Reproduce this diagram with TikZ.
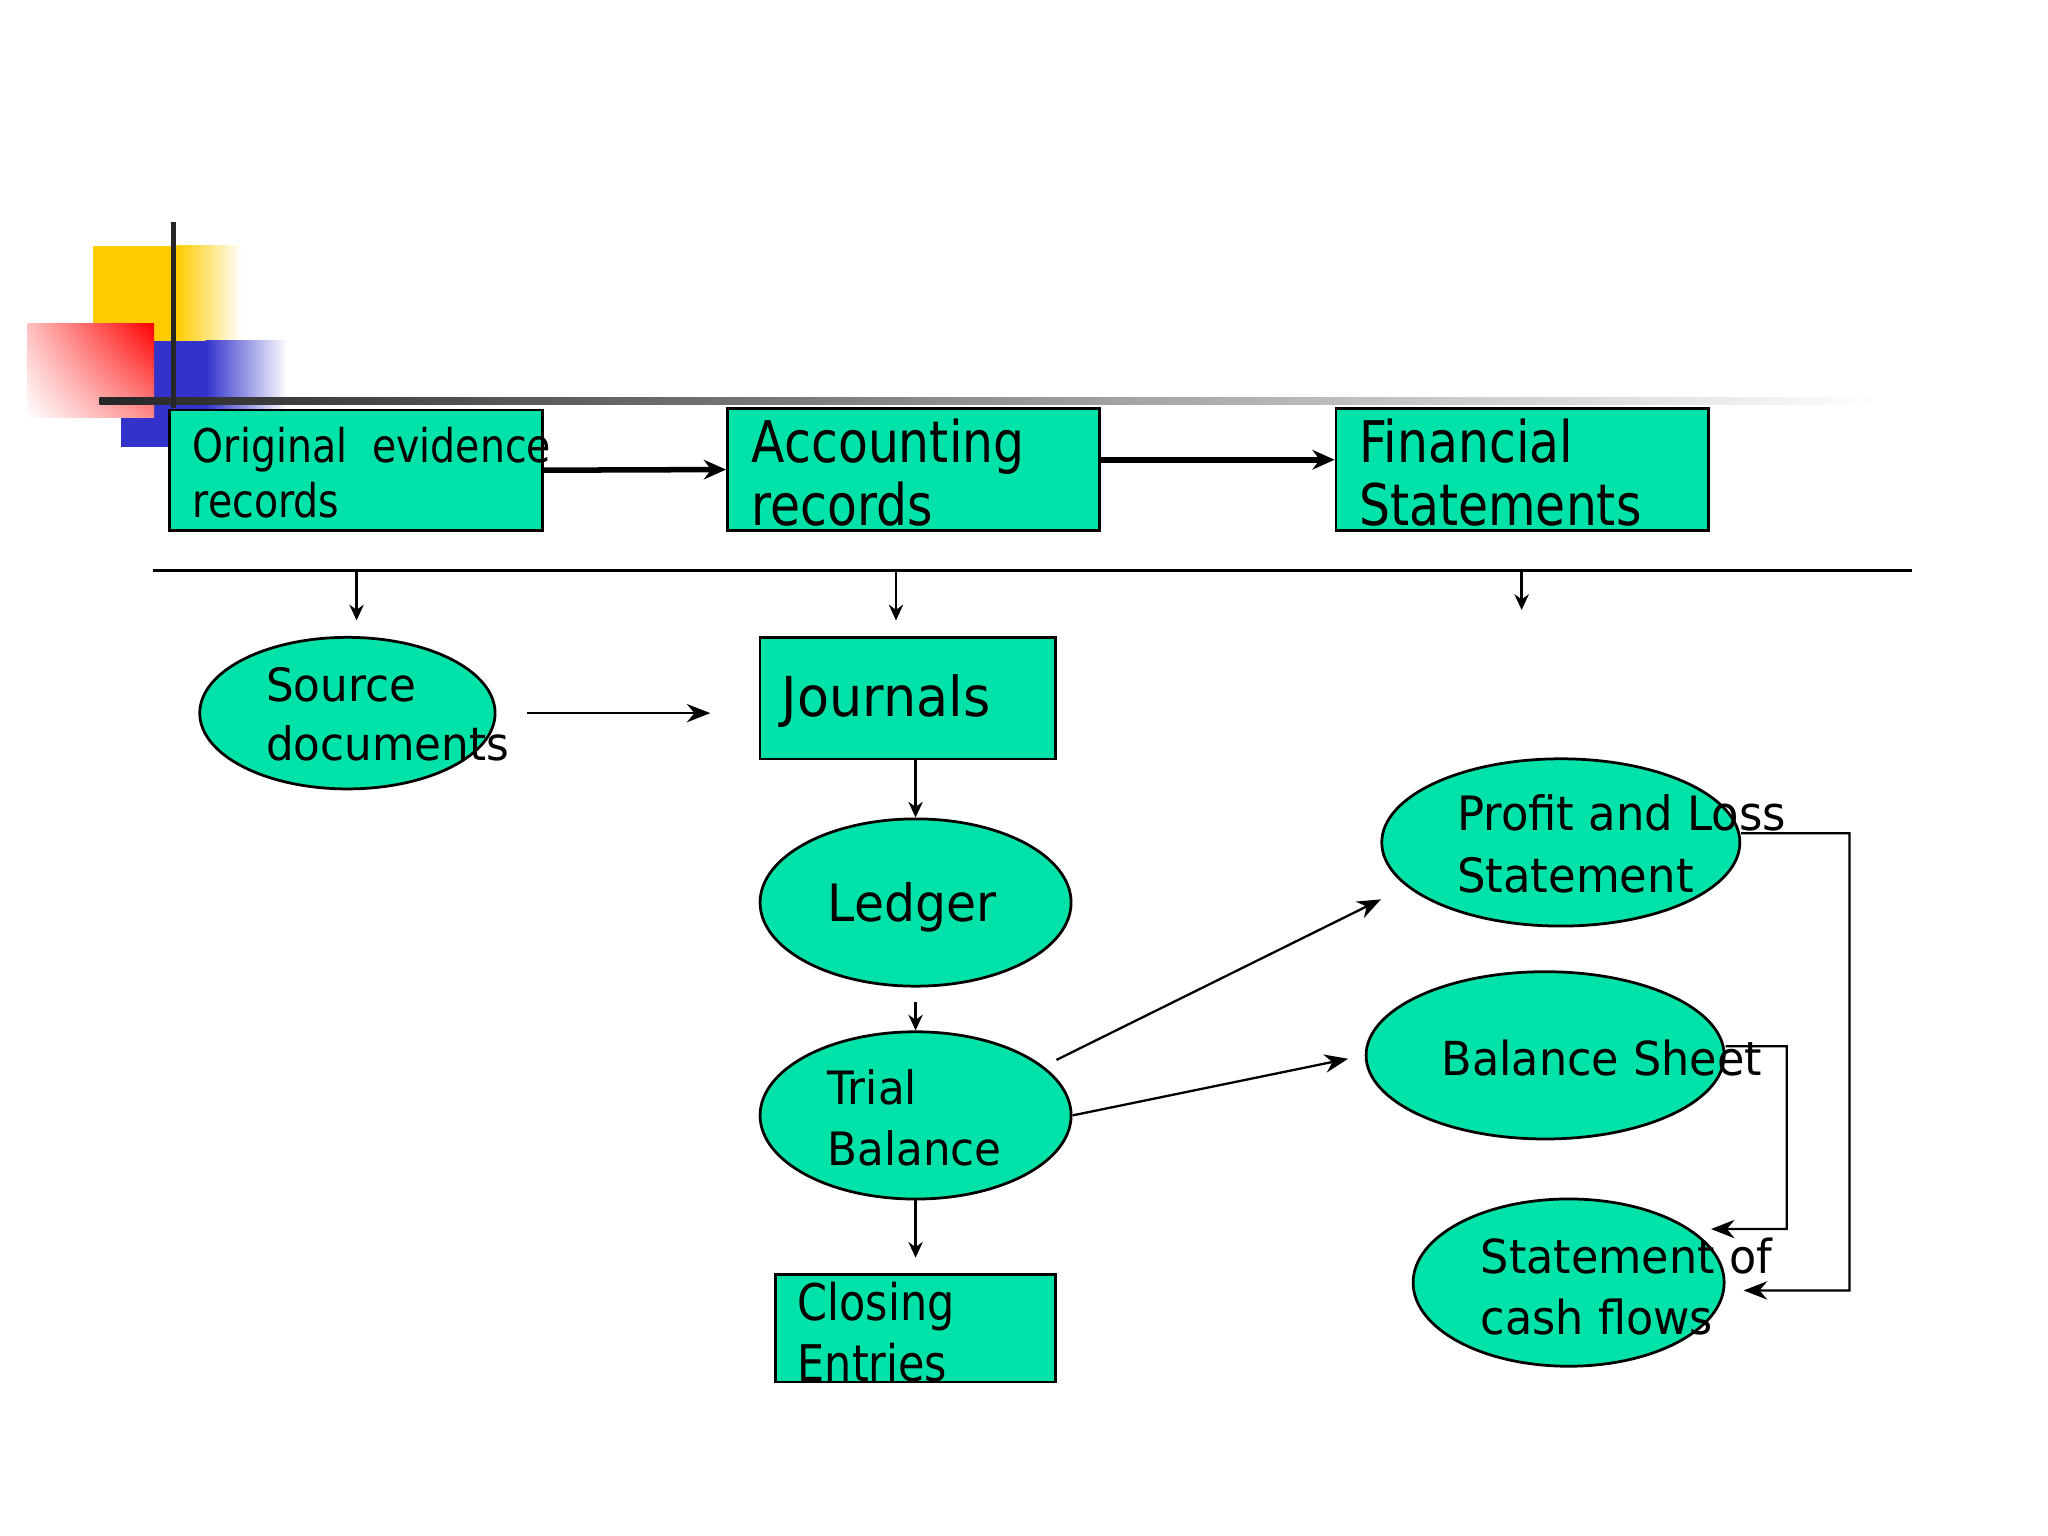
\documentclass[tikz,border=0pt]{standalone}
\usepackage{fontspec}
\setmainfont{DejaVu Sans}
\newfontfamily\condf[FakeStretch=0.85]{DejaVu Sans}
\newfontfamily\ellf[FakeStretch=0.95]{DejaVu Sans}
\usetikzlibrary{shapes.geometric,arrows.meta,shadings}
\definecolor{boxgreen}{RGB}{0,226,168}
\definecolor{decoyellow}{RGB}{255,204,0}
\definecolor{decoblue}{RGB}{51,51,204}
\definecolor{decored}{RGB}{255,0,0}
\begin{document}
\begin{tikzpicture}[x=0.01cm,y=-0.01cm,
  rectbox/.style={draw=black,line width=0.6pt,fill=boxgreen,rectangle,inner sep=0pt},
  ellbox/.style={draw=black,line width=0.6pt,fill=boxgreen,ellipse,inner sep=0pt},
  txt/.style={anchor=west,inner sep=0pt,align=left},
  bigarrow/.style={line width=1.2pt,-{Stealth[length=0.17cm,width=0.15cm]}},
  thinarrow/.style={line width=0.5pt,-{Stealth[length=0.12cm,width=0.11cm]}},
  longarrow/.style={line width=0.5pt,-{Stealth[length=0.18cm,width=0.14cm]}},
]
\useasboundingbox (0,0) rectangle (1568,1176);
\fill[white] (0,0) rectangle (1568,1176);
% decoration
\fill[decoyellow] (71,188) rectangle (136,262);
\shade[left color=decoyellow,right color=white] (135.5,188) rectangle (185,262);
\fill[decoblue] (93,261) rectangle (158,342);
\shade[left color=decoblue,right color=white] (157.5,261) rectangle (220,342);
\shade[upper right=decored,upper left=decored!25,lower right=decored!45,lower left=white] (21,248) rectangle (118,320);
\shade[left color=black!85,right color=white] (76,304.5) rectangle (1440,309.5);
\fill[black!85] (131,170) rectangle (135,312);
% top boxes
\node[rectbox,minimum width=2.85cm,minimum height=0.92cm] (oer) at (272.5,360) {};
\node[rectbox,minimum width=2.85cm,minimum height=0.93cm] (acc) at (699.5,359.5) {};
\node[rectbox,minimum width=2.85cm,minimum height=0.93cm] (fin) at (1165.5,359.5) {};
% second level
\node[ellbox,minimum width=2.26cm,minimum height=1.16cm] (src) at (266,546) {};
\node[rectbox,minimum width=2.26cm,minimum height=0.93cm] (jr) at (695,534.5) {};
\node[ellbox,minimum width=2.38cm,minimum height=1.28cm] (led) at (701,691) {};
\node[ellbox,minimum width=2.38cm,minimum height=1.28cm] (tb) at (701,854) {};
\node[rectbox,minimum width=2.14cm,minimum height=0.82cm] (ce) at (701,1017) {};
\node[ellbox,minimum width=2.74cm,minimum height=1.28cm] (pl) at (1195,645) {};
\node[ellbox,minimum width=2.74cm,minimum height=1.28cm] (bs) at (1183,808) {};
\node[ellbox,minimum width=2.38cm,minimum height=1.28cm] (scf) at (1201,982) {};
% connectors
\draw[bigarrow] (oer.east) -- (acc.west);
\draw[bigarrow] ([yshift=0.075cm]acc.east) -- ([yshift=0.075cm]fin.west);
\coordinate (sepL) at (117,437);
\coordinate (sepR) at (1464,437);
\draw[line width=0.6pt] (sepL) -- (sepR);
\coordinate (d1s) at (273,437); \coordinate (d1e) at (273,475);
\coordinate (d2s) at (686,437); \coordinate (d2e) at (686,475);
\coordinate (d3s) at (1165,437); \coordinate (d3e) at (1165,467);
\draw[thinarrow] (d1s) -- (d1e);
\draw[thinarrow] (d2s) -- (d2e);
\draw[thinarrow] (d3s) -- (d3e);
\draw[longarrow,shorten <=0.23cm,shorten >=0.37cm] (src.east) -- (jr.west |- src.east);
\draw[thinarrow] (led.north |- jr.south) -- (led.north);
\draw[thinarrow,shorten <=0.11cm] (led.south) -- (tb.north);
\draw[thinarrow,shorten >=0.12cm] (tb.south) -- (ce.north);
\draw[longarrow,shorten <=0.11cm,shorten >=0.22cm] (tb.21) -- (pl.196);
\draw[longarrow,shorten >=0.13cm] (tb.east) -- (bs.west);
\coordinate (plin) at (1335,988);
\coordinate (bsin) at (1310,941);
\draw[longarrow] ([yshift=0.07cm]pl.east) -- (1416,638) |- (plin);
\draw[longarrow] ([yshift=0.07cm]bs.east) -- (1368,801) |- (bsin);
% texts
\node[txt,font={\condf\fontsize{10.1pt}{12pt}\selectfont}] (oerT) at (147,362) {Original\ \ evidence\\records};
\node[txt,font={\condf\fontsize{12.5pt}{13.7pt}\selectfont}] (accT) at (575,362) {Accounting\\records};
\node[txt,font={\condf\fontsize{12.5pt}{13.7pt}\selectfont}] (finT) at (1040,362) {Financial\\Statements};
\node[txt,font={\ellf\fontsize{10pt}{12.8pt}\selectfont}] (srcT) at (203,547) {Source\\documents};
\node[txt,font={\ellf\fontsize{12pt}{14pt}\selectfont}] (jrT) at (598,537) {Journals};
\node[txt,font={\ellf\fontsize{11.2pt}{13.4pt}\selectfont}] (ledT) at (633,695) {Ledger};
\node[txt,font={\ellf\fontsize{10pt}{13.4pt}\selectfont}] (tbT) at (633,856) {Trial\\Balance};
\node[txt,font={\condf\fontsize{11pt}{13.4pt}\selectfont}] (ceT) at (610,1020) {Closing\\Entries};
\node[txt,font={\ellf\fontsize{10.3pt}{13.4pt}\selectfont}] (plT) at (1115,646) {Profit and Loss\\Statement};
\node[txt,font={\ellf\fontsize{10.2pt}{13.4pt}\selectfont}] (bsT) at (1103,810) {Balance Sheet};
\node[txt,font={\ellf\fontsize{10.2pt}{13.4pt}\selectfont}] (scfT) at (1133,985) {Statement of\\cash flows};
\end{tikzpicture}
\end{document}
